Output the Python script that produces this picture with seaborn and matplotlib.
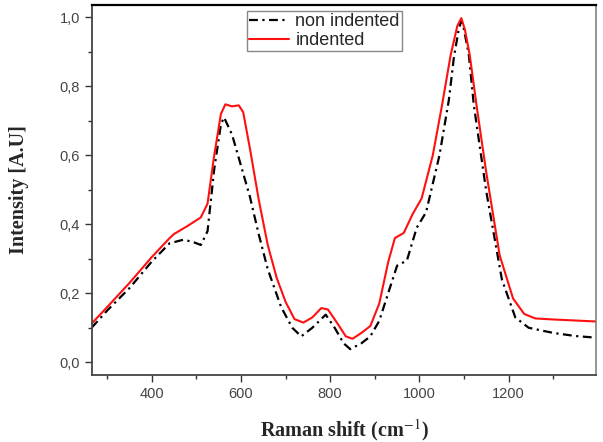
import numpy as np
import pandas as pd
import matplotlib
matplotlib.use("Agg")
import matplotlib.pyplot as plt
import seaborn as sns
from matplotlib.ticker import MultipleLocator, FuncFormatter

# Raman spectra
shift_indented = [265, 300, 350, 400, 440, 450, 480, 510, 525, 540, 555, 565, 580, 595,
                  605, 620, 640, 660, 680, 700, 720, 740, 760, 780, 795, 815, 835, 850,
                  870, 890, 910, 930, 945, 965, 985, 1005, 1030, 1050, 1070, 1085, 1094,
                  1102, 1113, 1128, 1150, 1180, 1210, 1235, 1260, 1300, 1350, 1398]
int_indented = [0.112, 0.160, 0.230, 0.305, 0.360, 0.372, 0.395, 0.420, 0.460, 0.600,
                0.720, 0.748, 0.742, 0.745, 0.725, 0.620, 0.470, 0.340, 0.245, 0.175,
                0.125, 0.115, 0.130, 0.157, 0.153, 0.115, 0.075, 0.068, 0.085, 0.105,
                0.170, 0.290, 0.360, 0.375, 0.430, 0.475, 0.600, 0.740, 0.890, 0.975,
                0.998, 0.965, 0.890, 0.746, 0.550, 0.310, 0.185, 0.140, 0.127, 0.124,
                0.121, 0.118]

shift_non = [265, 300, 350, 400, 440, 470, 490, 510, 525, 540, 555, 562, 580, 600, 620,
             640, 660, 690, 715, 735, 760, 790, 810, 830, 845, 870, 890, 910, 930, 950,
             972, 994, 1015, 1045, 1066, 1077, 1088, 1094, 1100, 1111, 1122, 1150, 1185,
             1215, 1245, 1300, 1350, 1398]
int_non = [0.100, 0.150, 0.215, 0.292, 0.345, 0.355, 0.350, 0.340, 0.380, 0.560, 0.690,
           0.710, 0.660, 0.570, 0.480, 0.370, 0.270, 0.160, 0.100, 0.075, 0.100, 0.138,
           0.100, 0.055, 0.038, 0.055, 0.075, 0.120, 0.200, 0.280, 0.295, 0.390, 0.435,
           0.600, 0.760, 0.880, 0.965, 0.990, 0.965, 0.890, 0.746, 0.495, 0.240, 0.130,
           0.100, 0.085, 0.076, 0.071]

df_non = pd.DataFrame({"shift": shift_non, "intensity": int_non})
df_ind = pd.DataFrame({"shift": shift_indented, "intensity": int_indented})

sns.set_style("ticks")
plt.rcParams["font.family"] = ["Liberation Sans", "DejaVu Sans"]
plt.rcParams["mathtext.fontset"] = "stix"

fig = plt.figure(figsize=(6.03, 4.42), dpi=100)
ax = fig.add_axes([0.1526, 0.1516, 0.8358, 0.8371])

sns.lineplot(data=df_non, x="shift", y="intensity", ax=ax, color="black",
             linewidth=1.6, linestyle=(0, (4, 2, 1, 2)), label="non indented")
sns.lineplot(data=df_ind, x="shift", y="intensity", ax=ax, color="#ff1010",
             linewidth=1.5, label="indented")

ax.set_xlim(266, 1396)
ax.set_ylim(-0.037, 1.036)
ax.xaxis.set_major_locator(MultipleLocator(200))
ax.xaxis.set_minor_locator(MultipleLocator(100))
ax.yaxis.set_major_locator(MultipleLocator(0.2))
ax.yaxis.set_minor_locator(MultipleLocator(0.1))
ax.yaxis.set_major_formatter(FuncFormatter(lambda v, p: f"{v:.1f}".replace(".", ",")))

ax.tick_params(axis="both", which="major", direction="out", length=5, width=1,
               colors="#333333", labelsize=10.5, labelcolor="#444444")
ax.tick_params(axis="both", which="minor", direction="out", length=3, width=1,
               colors="#333333")

for side in ["left", "bottom"]:
    ax.spines[side].set_color("#444444")
    ax.spines[side].set_linewidth(1.3)
ax.spines["right"].set_color("#777777")
ax.spines["right"].set_linewidth(1.1)
ax.spines["top"].set_color("black")
ax.spines["top"].set_linewidth(1.6)

ax.set_xlabel("Raman shift (cm$^{-1}$)", family="Liberation Serif",
              fontweight="bold", fontsize=14.5)
ax.set_ylabel("Intensity [A.U]", family="Liberation Serif",
              fontweight="bold", fontsize=14.5)
ax.xaxis.set_label_coords(0.5, -0.113)
ax.yaxis.set_label_coords(-0.125, 0.5)

leg = ax.legend(loc="upper left", bbox_to_anchor=(0.308, 0.984), fancybox=False,
                framealpha=1, edgecolor="#888888", fontsize=13, handlelength=2.2,
                borderpad=0.12, labelspacing=0.12, handletextpad=0.35, borderaxespad=0)
leg.get_frame().set_linewidth(1.0)

fig.savefig("out.png", dpi=100)
